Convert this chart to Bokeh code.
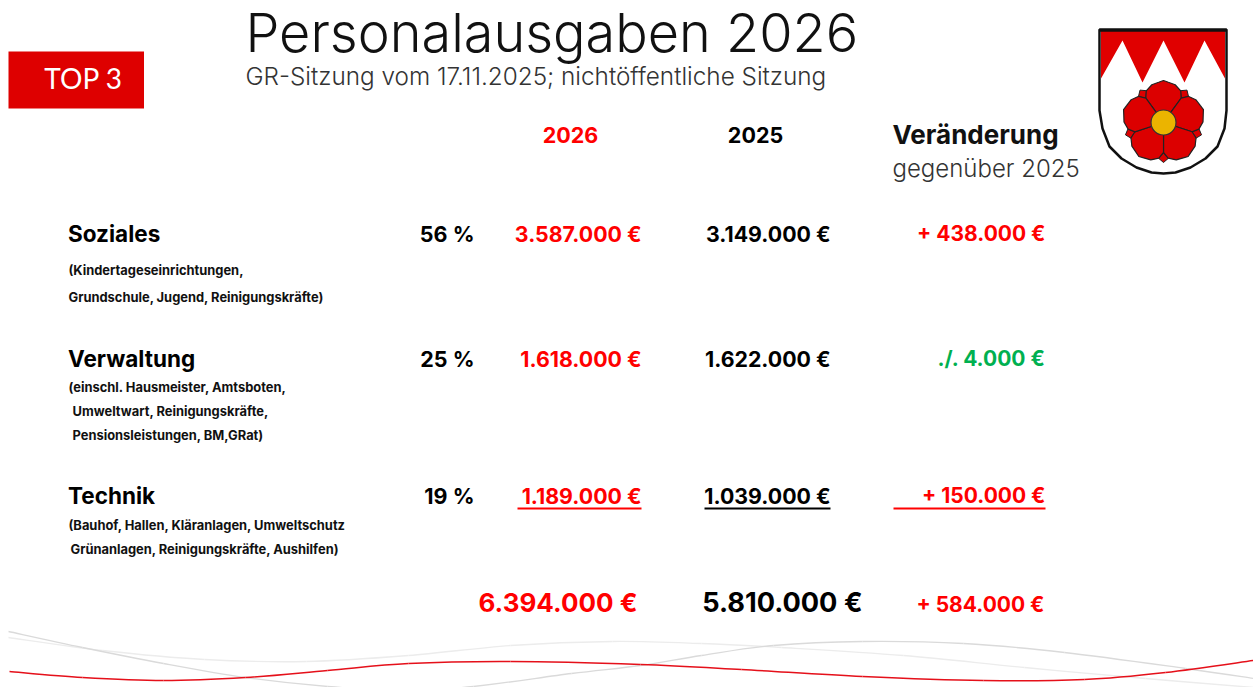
from math import cos, sin, pi
from bokeh.plotting import figure
from bokeh.models import Range1d
from bokeh.core.properties import value
from bokeh.embed import file_html
from bokeh.resources import INLINE

TITLE = "Personalausgaben 2026"
SUBTITLE = "GR-Sitzung vom 17.11.2025; nichtöffentliche Sitzung"
BADGE = "TOP 3"
HEAD_2026 = "2026"
HEAD_2025 = "2025"
HEAD_CHANGE = "Veränderung"
HEAD_CHANGE_SUB = "gegenüber 2025"

categories = ["Soziales", "Verwaltung", "Technik"]
shares = ["56 %", "25 %", "19 %"]
values_2026 = ["3.587.000 €", "1.618.000 €", "1.189.000 €"]
values_2025 = ["3.149.000 €", "1.622.000 €", "1.039.000 €"]
changes = ["+ 438.000 €", "./. 4.000 €", "+ 150.000 €"]
change_colors = ["#FF0000", "#00B050", "#FF0000"]
total_2026 = "6.394.000 €"
total_2025 = "5.810.000 €"
total_change = "+ 584.000 €"
notes = [
    ["(Kindertageseinrichtungen,", "Grundschule, Jugend, Reinigungskräfte)"],
    ["(einschl. Hausmeister, Amtsboten,", "Umweltwart, Reinigungskräfte,", "Pensionsleistungen, BM,GRat)"],
    ["(Bauhof, Hallen, Kläranlagen, Umweltschutz", "Grünanlagen, Reinigungskräfte, Aushilfen)"],
]

row_y = [234, 359, 496]
note_x = [[68, 68], [68, 72, 72], [68, 70]]
note_y = [[271, 298], [388, 412, 436], [526, 550]]

swoosh_dark = [(8,631),(82,647),(163,663),(245,677),(327,686),(404,690),(473,686),(571,673),(640,665),(701,655),(773,645),(862,641),(963,643),(1064,652),(1185,668),(1253,678)]
swoosh_light = [(8,637),(102,650),(204,659),(306,661),(408,655),(510,645),(612,641),(701,643),(781,647),(903,655),(1024,667),(1145,678),(1253,687)]
swoosh_red = [(9,671),(82,677),(163,680),(245,677),(327,670),(408,663),(510,661),(640,664),(741,669),(862,676),(983,680),(1084,679),(1165,672),(1253,660)]

FONT = value("Inter")
LIGHT = value("Inter Light")
BADGE_FONT = value("Lato")

p = figure(width=1253, height=687, output_backend="svg", toolbar_location=None,
           x_range=Range1d(0, 1253), y_range=Range1d(687, 0),
           min_border=0, outline_line_color=None, background_fill_color="white")
p.axis.visible = False
p.grid.visible = False


def swoosh(pts, color, w, alpha=1.0):
    n = len(pts)
    for i in range(n - 1):
        a = pts[max(i - 1, 0)]; b = pts[i]; c = pts[i + 1]; d = pts[min(i + 2, n - 1)]
        p.bezier(x0=[b[0]], y0=[b[1]], x1=[c[0]], y1=[c[1]],
                 cx0=[b[0] + (c[0] - a[0]) / 6], cy0=[b[1] + (c[1] - a[1]) / 6],
                 cx1=[c[0] - (d[0] - b[0]) / 6], cy1=[c[1] - (d[1] - b[1]) / 6],
                 line_color=color, line_width=w, line_alpha=alpha)


swoosh(swoosh_light, "#ECECEC", 1.3)
swoosh(swoosh_dark, "#DADADA", 1.3)
swoosh(swoosh_red, "#E5101A", 1.5)

p.quad(left=[8], right=[143.5], top=[51], bottom=[108], fill_color="#DE0000", line_color=None)


def txt(x, y, s, size, color="#000000", bold=False, align="left", font=FONT):
    p.text(x=[x], y=[y - 1], text=[s], text_font=font, text_font_size=f"{size}px",
           text_color=color, text_align=align, text_baseline="middle",
           text_font_style="bold" if bold else "normal")


txt(83, 78, BADGE, 28, "#FFFFFF", align="center", font=BADGE_FONT)
txt(245, 33, TITLE, 54, "#111111", font=LIGHT)
txt(245, 76, SUBTITLE, 24.3, "#333333", font=LIGHT)

txt(570, 135, HEAD_2026, 21.5, "#FF0000", True, "center")
txt(755, 135, HEAD_2025, 21.5, "#000000", True, "center")
txt(892, 135, HEAD_CHANGE, 26, "#111111", True)
txt(892, 169, HEAD_CHANGE_SUB, 24, "#333333", font=LIGHT)

for i, y in enumerate(row_y):
    txt(67.5, y, categories[i], 22.5, "#000000", True)
    txt(474, y, shares[i], 21.5, "#000000", True, "right")
    txt(641, y, values_2026[i], 21.3, "#FF0000", True, "right")
    txt(830, y, values_2025[i], 21.3, "#000000", True, "right")
    txt(1045, y, changes[i], 21, change_colors[i], True, "right")
    for nx, ny, s in zip(note_x[i], note_y[i], notes[i]):
        txt(nx, ny, s, 12.9, "#111111", True)

p.segment(x0=[517, 704, 893], y0=[508, 508, 508], x1=[641, 830, 1045], y1=[508, 508, 508],
          line_color=["#FF0000", "#000000", "#FF0000"], line_width=2)

txt(637, 603, total_2026, 26, "#FF0000", True, "right")
txt(862, 603, total_2025, 27.2, "#000000", True, "right")
txt(1044, 605, total_change, 21, "#FF0000", True, "right")

shield_x = [1099, 1226, 1226, 1224, 1217, 1205, 1190, 1175, 1163, 1151, 1136, 1121, 1109, 1102, 1099]
shield_y = [29, 29, 110, 128, 146, 158, 167, 172, 173, 172, 167, 158, 146, 128, 110]
p.patch(shield_x, shield_y, fill_color="white", line_color="#111111", line_width=2.5)
chief_x = [1100.5, 1224.5, 1224.5, 1204, 1184, 1163, 1142, 1122, 1100.5]
chief_y = [30.5, 30.5, 78, 40, 82, 40, 82, 40, 78]
p.patch(chief_x, chief_y, fill_color="#E00000", line_color=None)
p.line([1099, 1226], [30, 30], line_color="#111111", line_width=2.5)

cx, cy = 1163, 122
for k in range(5):
    sa = 2 * pi * k / 5 + pi / 5
    sep = [(30, 0.0), (36, 0.14), (40, 0.0), (36, -0.14)]
    sx = [cx + r * sin(sa + t) for r, t in sep]
    sy = [cy - r * cos(sa + t) for r, t in sep]
    p.patch(sx, sy, fill_color="#DC0000", line_color="#222222", line_width=1)
for k in range(5):
    a0 = 2 * pi * k / 5
    petal = [(9, -0.63), (30, -0.63), (36, -0.5), (39.5, -0.3), (40.5, -0.12), (42, 0.0),
             (40.5, 0.12), (39.5, 0.3), (36, 0.5), (30, 0.63), (9, 0.63)]
    px_ = [cx + r * sin(a0 + t) for r, t in petal]
    py_ = [cy - r * cos(a0 + t) for r, t in petal]
    p.patch(px_, py_, fill_color="#DC0000", line_color="#222222", line_width=1.2)
p.circle(x=[cx], y=[cy], radius=12.5, fill_color="#EBB400", line_color="#333333", line_width=1.2)

open("out.html", "w").write(file_html(p, INLINE))
